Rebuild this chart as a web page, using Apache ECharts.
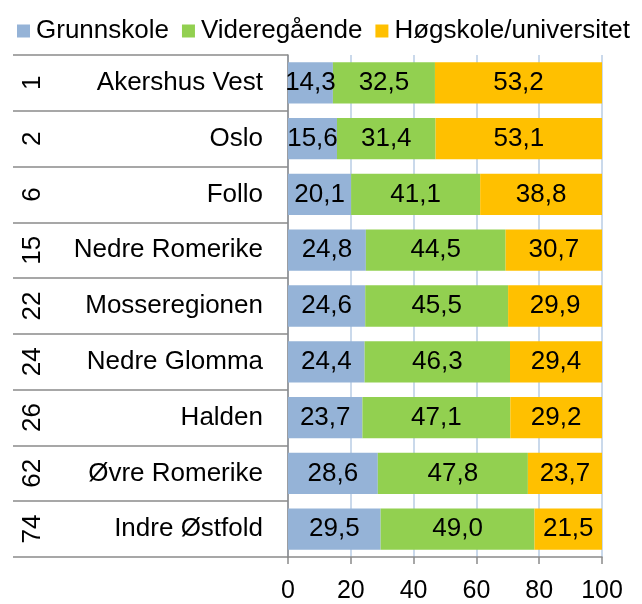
<!DOCTYPE html>
<html>
<head>
<meta charset="utf-8">
<script src="https://cdn.jsdelivr.net/npm/echarts@6/dist/echarts.min.js"></script>
<style>html,body{margin:0;padding:0;background:#fff}#c{width:642px;height:604px}</style>
</head>
<body>
<div id="c"></div>
<script>
const categories = ['Akershus Vest','Oslo','Follo','Nedre Romerike','Mosseregionen','Nedre Glomma','Halden','Øvre Romerike','Indre Østfold'];
const ranks = ['1','2','6','15','22','24','26','62','74'];
const grunnskole = [14.3,15.6,20.1,24.8,24.6,24.4,23.7,28.6,29.5];
const videregaende = [32.5,31.4,41.1,44.5,45.5,46.3,47.1,47.8,49.0];
const hogskole = [53.2,53.1,38.8,30.7,29.9,29.4,29.2,23.7,21.5];
const seriesNames = ['Grunnskole','Videregående','Høgskole/universitet'];
const colors = ['#95b3d7','#92d050','#ffc000'];

const FONT = "'Liberation Sans', Arial, sans-serif";
const AX = '#8a8a8a';
const chart = echarts.init(document.getElementById('c'));
const lbl = {
  show: true, position: 'inside', color: '#000', fontSize: 26, fontFamily: FONT,
  formatter: p => p.value.toFixed(1).replace('.', ',')
};
const mk = (name, data, i) => ({
  name, type: 'bar', stack: 'a', data, barCategoryGap: '26%',
  itemStyle: { color: colors[i] }, label: lbl
});
chart.setOption({
  animation: false,
  textStyle: { fontFamily: FONT },
  color: colors,
  legend: {
    left: 12, top: 13, itemWidth: 13, itemHeight: 13, itemGap: 13,
    icon: 'rect',
    textStyle: { fontSize: 26, color: '#000', fontFamily: FONT, padding: [0, 0, 0, 1] },
    data: seriesNames
  },
  grid: { left: 288, right: 40, top: 55, bottom: 42 },
  xAxis: {
    type: 'value', min: 0, max: 100, interval: 20,
    axisLine: { show: true, lineStyle: { color: AX, width: 1.5 } },
    axisTick: { show: true, length: 7, lineStyle: { color: AX, width: 1.5 } },
    axisLabel: { fontSize: 25, color: '#000', margin: 22, fontFamily: FONT },
    splitLine: { show: true, lineStyle: { color: '#b9cde5', width: 1.5 } }
  },
  yAxis: [{
    type: 'category', data: categories, inverse: true,
    axisLine: { show: true, lineStyle: { color: AX, width: 1.5 } },
    axisTick: { show: true, length: 220, lineStyle: { color: AX, width: 1.5 } },
    axisLabel: { fontSize: 26, color: '#000', margin: 25, fontFamily: FONT }
  }, {
    type: 'category', data: ranks, inverse: true, position: 'left', offset: 220,
    axisLine: { show: false },
    axisTick: { show: true, length: 55, lineStyle: { color: AX, width: 1.5 } },
    axisLabel: { fontSize: 26, color: '#000', margin: 22, rotate: 90, fontFamily: FONT }
  }],
  series: [mk(seriesNames[0], grunnskole, 0), mk(seriesNames[1], videregaende, 1), mk(seriesNames[2], hogskole, 2)]
});
</script>
</body>
</html>
